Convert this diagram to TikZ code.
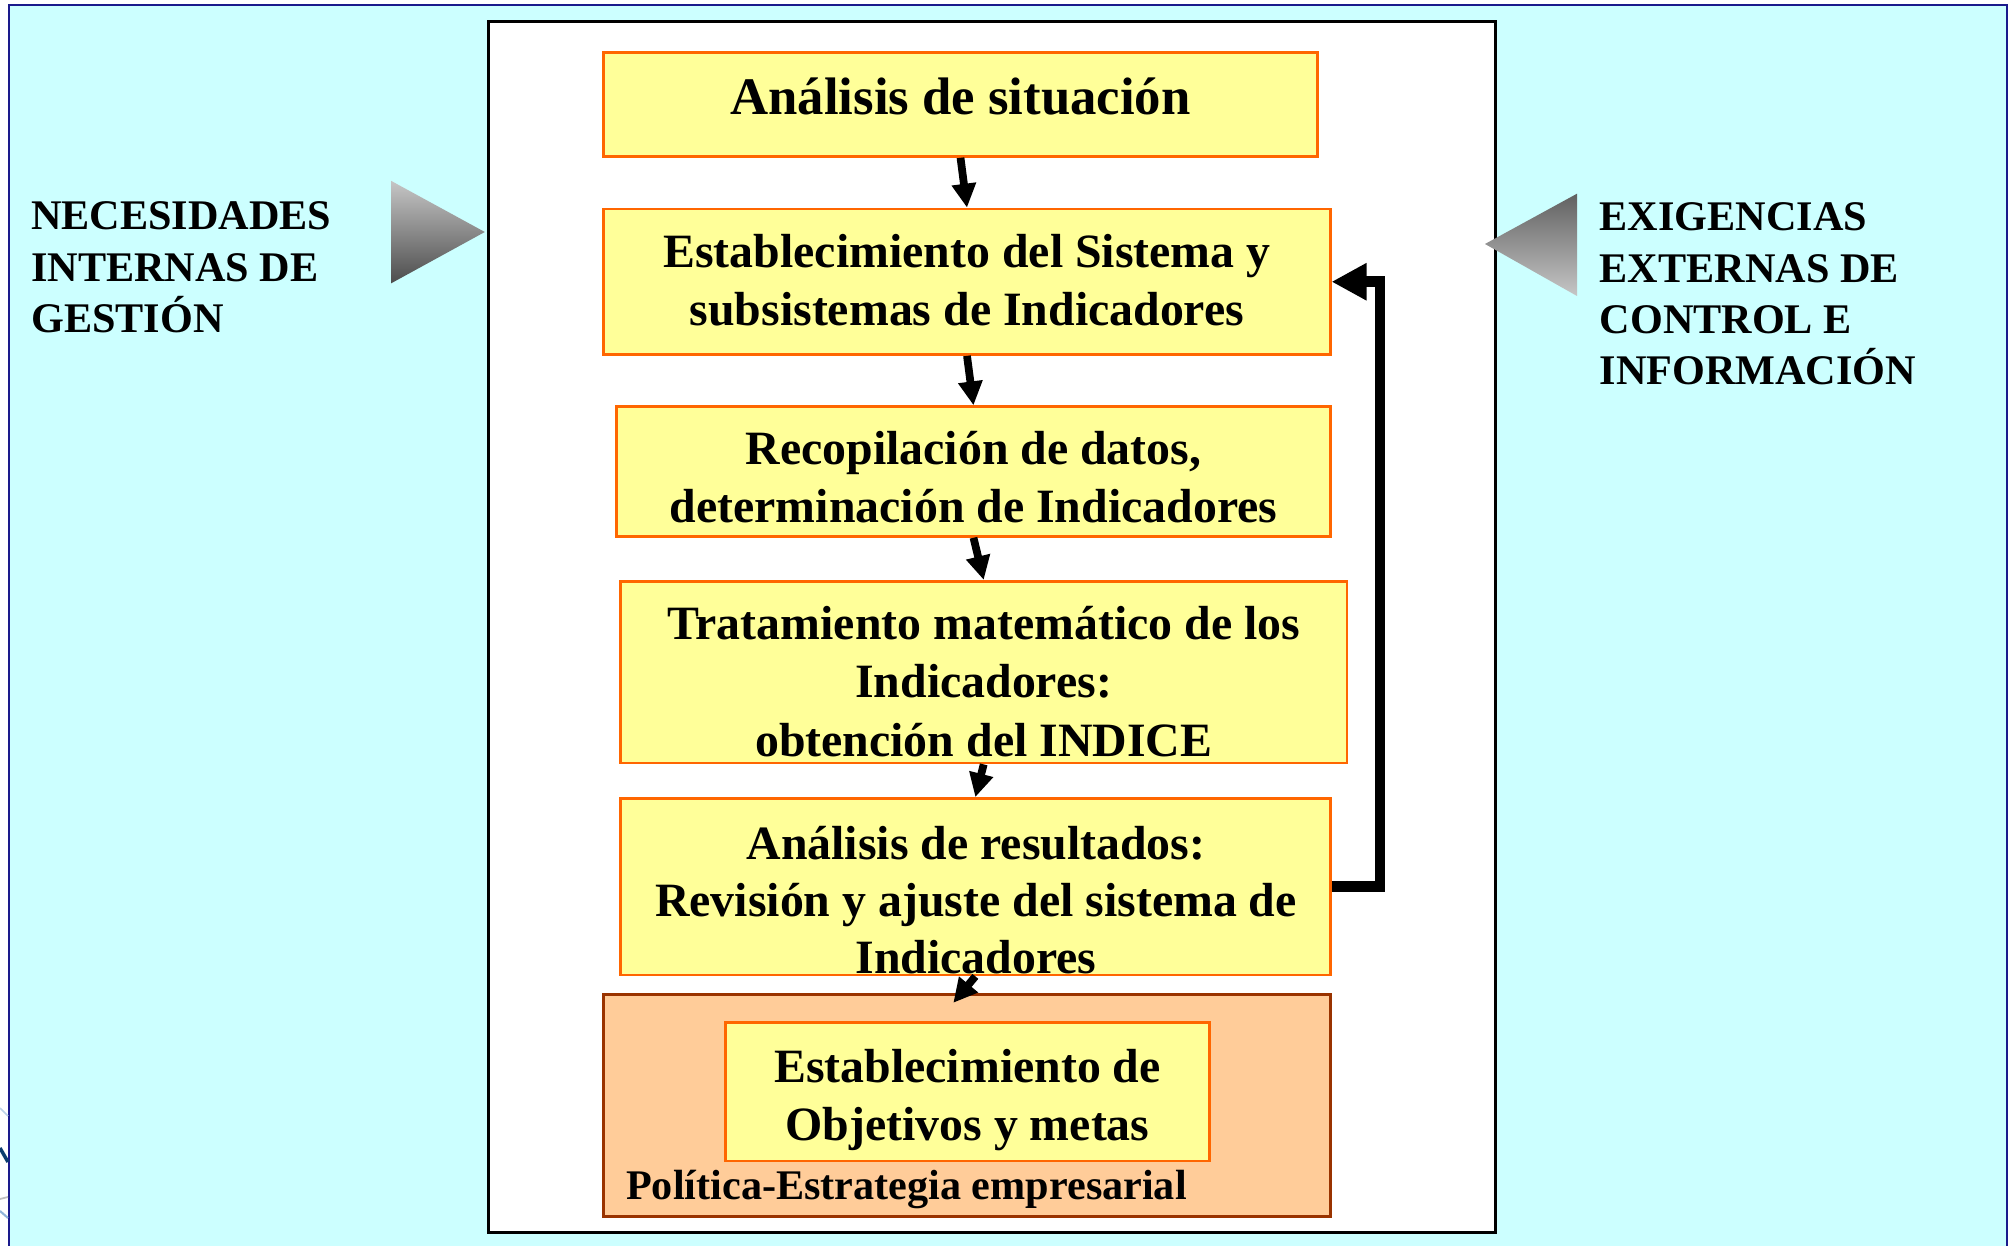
\documentclass[tikz,border=0pt]{standalone}
\usepackage{fontspec}
\setmainfont{Liberation Serif}
\usetikzlibrary{arrows.meta,calc}
\definecolor{bgcyan}{HTML}{CCFFFF}
\definecolor{boxyellow}{HTML}{FFFF99}
\definecolor{boxorange}{HTML}{FF6600}
\definecolor{polfill}{HTML}{FFCC99}
\definecolor{poldraw}{HTML}{993300}
\definecolor{frameblue}{HTML}{1A1A8C}
\definecolor{logonavy}{HTML}{0A3C6E}
\definecolor{logolight}{HTML}{8FB4D8}
\newcommand\boxfont{\fontsize{13.6}{16.6}\selectfont\bfseries}
\newcommand\sidefont{\fontsize{12}{14.6}\selectfont\bfseries}
\begin{document}
\begin{tikzpicture}[x=0.01cm,y=-0.01cm,
  stepbox/.style={draw=boxorange, fill=boxyellow, line width=0.75pt, inner sep=0pt},
  steptext/.style={align=center, inner sep=0pt, font=\boxfont},
  sidetext/.style={align=left, inner sep=0pt, anchor=west, font=\sidefont},
  flowarrow/.style={line width=2.2pt, -{Triangle[length=6.8pt,width=6.6pt]}},
  backarrow/.style={line width=3.1pt, -{Triangle[length=10pt,width=10pt]}}]
\useasboundingbox (0,0) rectangle (2011,1246);
\begin{scope}
\clip (0,0) rectangle (2011,1246);
\draw[fill=bgcyan, draw=frameblue, line width=0.6pt] (9,5) rectangle (2007,1270);
% fragment of a logo cut by the left edge
\draw[logolight!60, line width=0.5pt] (0,1108) -- (8,1116);
\draw[logonavy, line width=1pt] (0,1148) -- (8,1162);
\draw[gray!50, line width=0.5pt] (0,1199) -- (8,1197);
\draw[logolight, line width=0.6pt] (0,1211) -- (8,1218);
\end{scope}
% white panel
\node[draw=black, fill=white, line width=0.85pt, minimum width=10.069cm, minimum height=12.102cm, inner sep=0pt] (panel) at (992,626.9) {};
% boxes
\node[stepbox, minimum width=7.13cm, minimum height=1.039cm] (b1) at (960.5,104.5) {};
\node[stepbox, minimum width=7.26cm, minimum height=1.455cm] (b2) at (967,281.75) {};
\node[stepbox, minimum width=7.13cm, minimum height=1.297cm] (b3) at (973.5,471.55) {};
\node[stepbox, minimum width=7.26cm, minimum height=1.817cm] (b4) at (983.7,672.15) {};
\node[stepbox, minimum width=7.093cm, minimum height=1.765cm] (b5) at (975.35,886.75) {};
\node[draw=poldraw, fill=polfill, line width=0.8pt, minimum width=7.266cm, minimum height=2.222cm, inner sep=0pt] (ob) at (967.3,1105.4) {};
\node[stepbox, minimum width=4.84cm, minimum height=1.387cm] (ib) at (967.5,1091.65) {};
% texts
\node[steptext, font=\fontsize{15}{18}\selectfont\bfseries] (t1) at (960.5,97) {Análisis de situación};
\node[steptext] (t2) at (967,280) {Establecimiento del Sistema y\\subsistemas de Indicadores};
\node[steptext] (t3) at (973.5,477) {Recopilación de datos,\\determinación de Indicadores};
\node[steptext] (t4) at (983.7,681.5) {Tratamiento matemático de los\\Indicadores:\\obtención del INDICE};
\node[steptext, font=\fontsize{13.6}{16.3}\selectfont\bfseries] (t5) at (976,900) {Análisis de resultados:\\Revisión y ajuste del sistema de\\Indicadores};
\node[steptext] (t6) at (967.5,1100) {Establecimiento de\\Objetivos y metas};
\node[inner sep=0pt, anchor=base west, font=\fontsize{12}{14.6}\selectfont\bfseries] (t7) at (625.5,1199) {Política-Estrategia empresarial};
\node[sidetext] (lt) at (30.5,267.5) {NECESIDADES\\INTERNAS DE\\GESTIÓN};
\node[sidetext] (rt) at (1599,294.2) {EXIGENCIAS\\EXTERNAS DE\\CONTROL E\\INFORMACIÓN};
% triangles
\shade[top color=gray!45, bottom color=black!70] (391,180.8) -- (391,283.4) -- (484.8,232) -- cycle;
\shade[top color=black!62, bottom color=gray!45] (1577,193.7) -- (1577,296) -- (1485,244) -- cycle;
% connectors
\draw[flowarrow] (b1.south) -- (b2.north);
\draw[flowarrow] (b2.south) -- (b3.north);
\draw[flowarrow] (b3.south) -- (b4.north);
\draw[flowarrow] (b4.south) -- (b5.north);
\draw[flowarrow] (b5.south) -- ($(ob.north)+(-14,10)$);
\draw[backarrow] (b5.east) -- ++(48.5,0) |- (b2.east);
\end{tikzpicture}
\end{document}
